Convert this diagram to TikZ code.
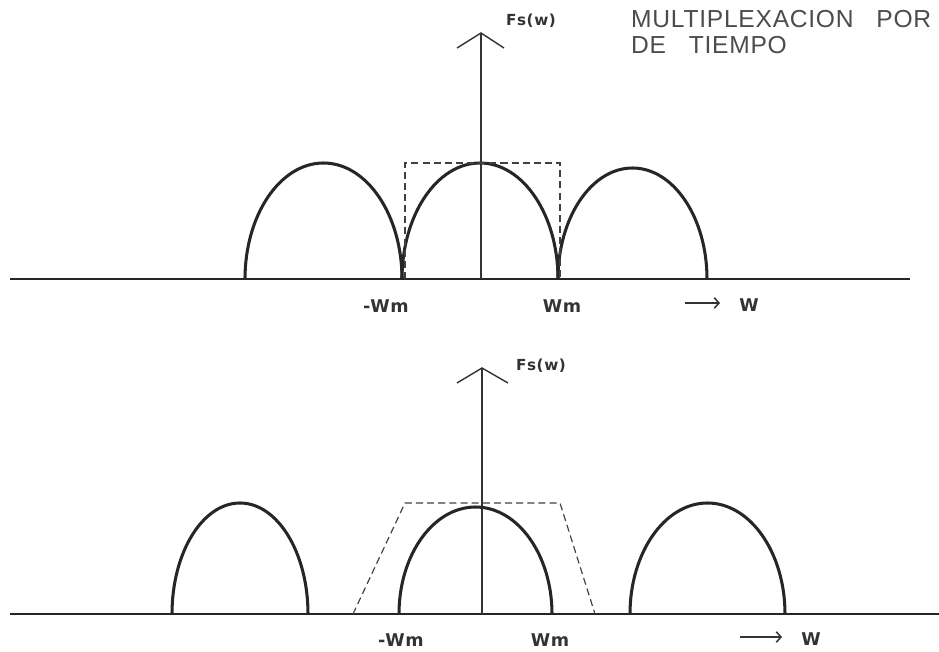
\documentclass[tikz,border=0pt]{standalone}
\usepackage{fontspec}
\setmainfont{Liberation Sans}
\newfontfamily\stencil[LetterSpace=4]{DejaVu Sans}
\usetikzlibrary{positioning,calc,arrows.meta}

\begin{document}
\begin{tikzpicture}[x=0.03cm, y=-0.03cm,
            lobe/.style={line width=2.6pt, black!85},
            axis/.style={line width=1.2pt, black!80},
            base/.style={line width=1.5pt, black!85},
            guide/.style={line width=1pt, black!75, dash pattern=on 6pt off 3.5pt},
            warrow/.style={line width=1.3pt, black!80, -{Straight Barb[length=4pt,width=9pt]}},
            lbl/.style={font=\stencil\fontsize{15}{16}\selectfont\bfseries, text=black!80, inner sep=0pt},
            fslbl/.style={font=\stencil\fontsize{13}{14}\selectfont\bfseries, text=black!80, inner sep=0pt},
            title/.style={font=\addfontfeatures{LetterSpace=3}\fontsize{21}{23}\selectfont, text=black!70, inner sep=0pt, anchor=west}]
            \useasboundingbox (0,0) rectangle (939,652);
            % upper spectrum
            \draw[base] (10,279) -- (910,279);
            \draw[axis] (481,279) -- (481,33);
            \draw[axis] (457,48) -- (481,33) -- (504,48);
            \node[fslbl] (fsa) at (531,21) {Fs(w)};
            \node[title] (tita) at (631,19) {MULTIPLEXACION\ \ \ POR};
            \node[title] (titb) at (631,45) {DE\ \ \ TIEMPO};
            \draw[lobe] (245,279) arc[start angle=180, end angle=0, x radius=78.5, y radius=-116];
            \draw[lobe] (402,279) arc[start angle=180, end angle=0, x radius=78, y radius=-116];
            \draw[lobe] (558,279) arc[start angle=180, end angle=0, x radius=74.5, y radius=-111];
            \draw[guide] (405,279) -- (405,163) -- (560,163) -- (560,279);
            \node[lbl] (wma) at (386,306) {-Wm};
            \node[lbl] (wmb) at (562,306) {Wm};
            \node[lbl] (wa) at (749,305) {W};
            \coordinate (wta) at (685,303);
            \coordinate (wtb) at (720,303);
            \draw[warrow] (wta) -- (wtb);
            % lower spectrum
            \draw[base] (10,614) -- (939,614);
            \draw[axis] (482,614) -- (482,368);
            \draw[axis] (457,383) -- (482,368) -- (508,383);
            \node[fslbl] (fsb) at (541,366) {Fs(w)};
            \draw[lobe] (172,614) arc[start angle=180, end angle=0, x radius=68, y radius=-111];
            \draw[lobe] (399,614) arc[start angle=180, end angle=0, x radius=76.5, y radius=-107];
            \draw[lobe] (630,614) arc[start angle=180, end angle=0, x radius=77.5, y radius=-111];
            \draw[guide] (353,614) -- (405,503) -- (560,503) -- (595,614);
            \node[lbl] (wmc) at (401,640) {-Wm};
            \node[lbl] (wmd) at (550,640) {Wm};
            \node[lbl] (wb) at (811,639) {W};
            \coordinate (wba) at (740,637);
            \coordinate (wbb) at (782,637);
            \draw[warrow] (wba) -- (wbb);
        \end{tikzpicture}
\end{document}
